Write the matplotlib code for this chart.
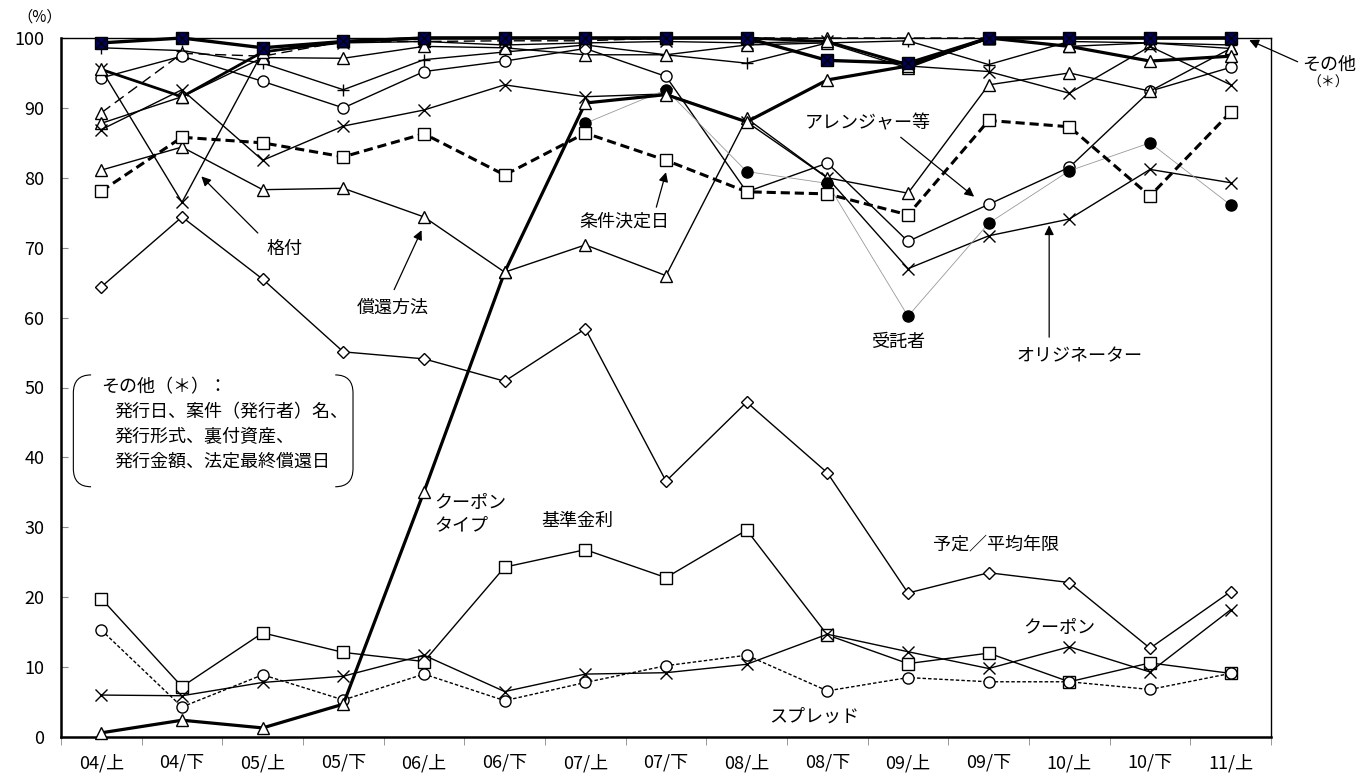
import numpy as np
import matplotlib
matplotlib.use('Agg')
import matplotlib.pyplot as plt
from matplotlib.path import Path
from matplotlib.patches import PathPatch

plt.rcParams['font.family'] = ['Noto Sans CJK JP', 'DejaVu Sans']

cats = ['04/上', '04/下', '05/上', '05/下', '06/上', '06/下', '07/上', '07/下',
        '08/上', '08/下', '09/上', '09/下', '10/上', '10/下', '11/上']

# 上位の項目
sonota = [99.3, 100, 98.6, 99.5, 100, 100, 100, 100, 100, 96.8, 96.4, 100, 100, 100, 100]
coupon_type = [0.6, 2.4, 1.3, 4.7, 35.1, 66.5, 90.7, 91.9, 88.0, 94.0, 96.0, 100, 98.8, 96.7, 97.4]
kakuduke = [95.5, 76.5, 98.0, 99.3, 99.5, 99.0, 99.3, 99.5, 99.3, 99.5, 96.0, 95.2, 92.1, 98.8, 93.3]
shokan = [81.1, 84.4, 78.3, 78.5, 74.4, 66.5, 70.4, 66.0, 88.5, 80.0, 77.8, 93.3, 95.0, 92.4, 98.5]
joken = [78.1, 85.8, 85.0, 83.0, 86.3, 80.4, 86.4, 82.5, 78.0, 77.7, 74.7, 88.2, 87.3, 77.4, 89.4]
arranger = [94.3, 97.4, 93.8, 90.0, 95.2, 96.7, 98.5, 94.5, 78.0, 82.1, 70.9, 76.2, 81.5, 92.4, 95.8]
jutaku = [np.nan] * 6 + [87.8, 92.6, 80.9, 79.2, 60.2, 73.5, 81.0, 85.0, 76.1]
originator = [86.9, 92.6, 82.5, 87.4, 89.7, 93.3, 91.6, 92.0, 88.0, 80.0, 67.0, 71.7, 74.1, 81.2, 79.3]
plus_item = [98.6, 98.2, 96.4, 92.6, 96.9, 98.0, 99.0, 97.6, 96.4, 99.3, 99.6, 96.2, 99.5, 99.3, 99.0]
dash_tri = [89.3, 97.8, 97.4, 99.5, 99.5, 99.6, 99.6, 100, 100, 100, 100, 100, 100, 100, 100]
tri_b = [87.8, 91.6, 97.2, 97.1, 98.8, 98.6, 97.6, 97.6, 99.0, 99.3, 95.7, 100, 98.8, 99.3, 98.5]
thick_b = [95.5, 91.6, 98.0, 99.5, 100, 100, 100, 100, 100, 99.5, 96.2, 100, 100, 100, 100]

# 下位の項目
nengen = [64.4, 74.4, 65.5, 55.1, 54.1, 50.9, 58.4, 36.6, 47.9, 37.8, 20.6, 23.5, 22.1, 12.7, 20.8]
kijun = [19.8, 7.2, 14.9, 12.1, 10.8, 24.3, 26.8, 22.8, 29.6, 14.6, 10.5, 12.0, 7.9, 10.6, 9.1]
coupon = [6.0, 5.9, 7.8, 8.7, 11.7, 6.5, 9.0, 9.2, 10.4, 14.7, 12.2, 9.8, 12.9, 9.3, 18.2]
spread = [15.3, 4.3, 8.9, 5.3, 9.0, 5.2, 7.8, 10.2, 11.7, 6.6, 8.5, 7.9, 7.9, 6.8, 9.1]

x = np.arange(len(cats))

fig = plt.figure(figsize=(13.7, 7.78), dpi=100)
ax = fig.add_axes([61 / 1370, 1 - 737 / 778, 1210 / 1370, 699 / 778])


def series(vals, marker, ms, lw=1.0, dashes=None, color='black', mfc='white', z=3):
    ln, = ax.plot(x, vals, color=color, lw=lw, marker=marker, ms=ms, mfc=mfc,
                  mec='black', mew=1.0, zorder=z, clip_on=False)
    if dashes:
        ln.set_dashes(dashes)
    return ln


series(plus_item, '+', 9)
series(dash_tri, '^', 8, dashes=[8, 4])
series(tri_b, '^', 8)
series(arranger, 'o', 8)
series(originator, 'x', 8)
series(kakuduke, 'x', 8)
series(shokan, '^', 8)
ax.plot(x, jutaku, color='#999999', lw=0.6, zorder=3)
ax.plot(x, jutaku, 'o', color='black', ms=8, zorder=4)
series(joken, 's', 9, lw=2.2, dashes=[3, 1.6], z=4)
series(thick_b, '^', 8, lw=2.0, z=4)
series(coupon_type, '^', 8, lw=2.3, z=5)

series(nengen, 'D', 6.5)
series(kijun, 's', 9)
series(coupon, 'x', 9)
series(spread, 'o', 8, dashes=[2.5, 1.5])

ax.plot(x, sonota, color='black', lw=2.4, marker='s', ms=9, mfc='#00005e',
        mec='black', zorder=6, clip_on=False)
ax.plot(x, sonota, 'x', color='black', ms=8, mew=1.0, zorder=7, clip_on=False)

ax.set_xlim(-0.5, 14.5)
ax.set_ylim(0, 100)
ax.set_yticks(range(0, 101, 10))
ax.set_xticks(x)
ax.set_xticklabels(cats)
ax.set_xticks(np.arange(-0.5, 15, 1), minor=True)
ax.tick_params(axis='x', which='major', length=0, pad=12, labelsize=13)
ax.tick_params(axis='x', which='minor', length=6, direction='out', color='#888888')
ax.tick_params(axis='y', length=5, direction='in', color='#888888', labelsize=13, pad=12)
for s in ['left', 'bottom']:
    ax.spines[s].set_linewidth(1.8)
for s in ['top', 'right']:
    ax.spines[s].set_linewidth(1.0)

fig.text(40 / 1370, 1 - 17 / 778, '（%）', ha='center', va='center', fontsize=11)

arrow = dict(arrowstyle='-|>', lw=0.9, color='black', mutation_scale=14,
             shrinkA=0, shrinkB=0)
fs = 13
ax.text(2.27, 69.8, '格付', ha='center', va='center', fontsize=fs)
ax.annotate('', xy=(1.24, 80.2), xytext=(1.94, 72.1), arrowprops=arrow)
ax.text(3.61, 61.4, '償還方法', ha='center', va='center', fontsize=fs)
ax.annotate('', xy=(3.97, 72.5), xytext=(3.63, 64.0), arrowprops=arrow)
ax.text(6.48, 73.7, '条件決定日', ha='center', va='center', fontsize=fs)
ax.annotate('', xy=(7.0, 80.8), xytext=(6.88, 75.8), arrowprops=arrow)
ax.text(9.5, 87.8, 'アレンジャー等', ha='center', va='center', fontsize=fs)
ax.annotate('', xy=(10.82, 77.3), xytext=(9.91, 85.8), arrowprops=arrow)
ax.text(9.88, 56.5, '受託者', ha='center', va='center', fontsize=fs)
ax.text(12.12, 54.4, 'オリジネーター', ha='center', va='center', fontsize=fs)
ax.annotate('', xy=(11.75, 73.2), xytext=(11.75, 57.2), arrowprops=arrow)
ax.text(4.13, 31.9, 'クーポン\nタイプ', ha='left', va='center', fontsize=fs, linespacing=1.25)
ax.text(5.9, 30.9, '基準金利', ha='center', va='center', fontsize=fs)
ax.text(11.09, 27.6, '予定／平均年限', ha='center', va='center', fontsize=fs)
ax.text(11.87, 15.6, 'クーポン', ha='center', va='center', fontsize=fs)
ax.text(8.84, 2.9, 'スプレッド', ha='center', va='center', fontsize=fs)

ax.text(15.22, 96.1, 'その他', ha='center', va='center', fontsize=fs, clip_on=False)
ax.text(15.21, 93.6, '（＊）', ha='center', va='center', fontsize=10, clip_on=False)
ax.annotate('', xy=(14.23, 99.7), xytext=(14.83, 96.6), arrowprops=arrow,
            annotation_clip=False)

# その他（＊）の説明枠
xl, xr, yt, yb = -0.347, 3.12, 51.8, 35.8
dx, dy = 0.22, 2.6
left = Path([(xl + dx, yt), (xl, yt), (xl, yt - dy), (xl, yb + dy), (xl, yb), (xl + dx, yb)],
            [Path.MOVETO, Path.CURVE3, Path.CURVE3, Path.LINETO, Path.CURVE3, Path.CURVE3])
right = Path([(xr - dx, yt), (xr, yt), (xr, yt - dy), (xr, yb + dy), (xr, yb), (xr - dx, yb)],
             [Path.MOVETO, Path.CURVE3, Path.CURVE3, Path.LINETO, Path.CURVE3, Path.CURVE3])
for p in (left, right):
    ax.add_patch(PathPatch(p, fill=False, lw=0.8, color='black', zorder=2))
ax.text(0.0, 50.0, 'その他（＊）：', ha='left', va='center', fontsize=fs)
box_lines = ['発行日、案件（発行者）名、', '発行形式、裏付資産、', '発行金額、法定最終償還日']
for i, t in enumerate(box_lines):
    ax.text(0.16, 46.5 - i * 3.55, t, ha='left', va='center', fontsize=fs)

fig.savefig('out.png', dpi=100)
